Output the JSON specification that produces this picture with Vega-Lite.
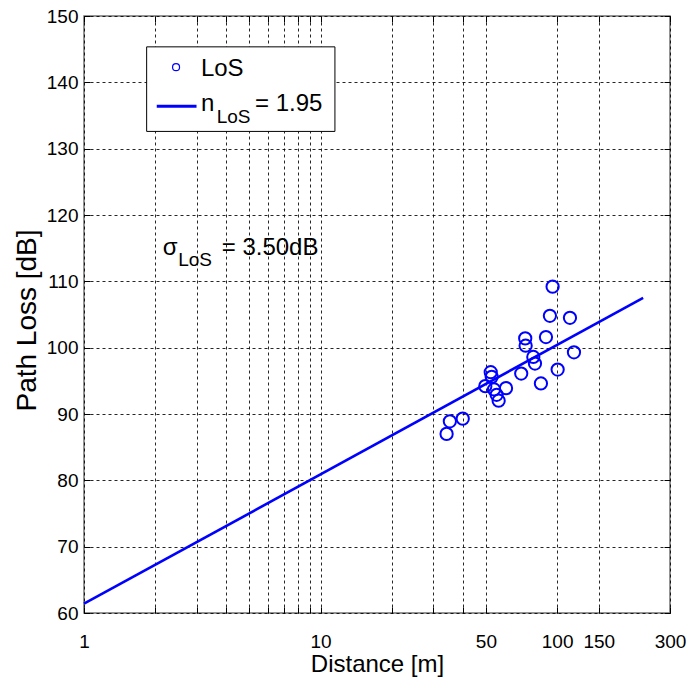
{
  "$schema": "https://vega.github.io/schema/vega-lite/v6.json",
  "width": 586,
  "height": 597,
  "autosize": {"type": "none"},
  "padding": {"left": 84, "top": 16, "right": 19, "bottom": 66},
  "background": "white",
  "config": {
    "font": "Liberation Sans",
    "view": {"stroke": "#707070", "strokeWidth": 1.5},
    "axis": {
      "domain": false,
      "labelColor": "black",
      "titleColor": "black",
      "titleFontWeight": "normal",
      "tickColor": "black",
      "gridColor": "black",
      "gridDash": [3, 3],
      "gridOpacity": 0.85,
      "gridWidth": 1,
      "labelFontSize": 19,
      "labelFont": "Liberation Sans",
      "titleFont": "Liberation Sans"
    }
  },
  "datasets": {
    "meas": [
      {"d": 95.7, "pl": 109.2}, {"d": 93.2, "pl": 104.8}, {"d": 113.3, "pl": 104.5},
      {"d": 89.7, "pl": 101.6}, {"d": 73.3, "pl": 101.4}, {"d": 73.6, "pl": 100.3},
      {"d": 117.8, "pl": 99.3}, {"d": 79.3, "pl": 98.6}, {"d": 80.6, "pl": 97.6},
      {"d": 100.5, "pl": 96.7}, {"d": 70.5, "pl": 96.1}, {"d": 52.4, "pl": 96.3},
      {"d": 52.9, "pl": 95.6}, {"d": 85.4, "pl": 94.6}, {"d": 49.7, "pl": 94.2},
      {"d": 60.8, "pl": 93.9}, {"d": 54.1, "pl": 93.7}, {"d": 55.5, "pl": 92.9},
      {"d": 56.6, "pl": 92.0}, {"d": 39.9, "pl": 89.3}, {"d": 35.2, "pl": 88.9},
      {"d": 34.1, "pl": 87.0}
    ],
    "fit": [{"d": 1, "pl": 61.4}, {"d": 231, "pl": 107.5}],
    "legbox": [{"xa": 1.84, "xb": 11.5, "ya": 132.6, "yb": 145.35}],
    "legsym": [{"d": 2.45, "pl": 142.28}],
    "legline": [{"xa": 2.03, "xb": 2.99, "pl": 136.4}],
    "maintext": [
      {"d": 3.12, "pl": 140.92, "t": "LoS"},
      {"d": 3.12, "pl": 135.64, "t": "n"},
      {"d": 5.28, "pl": 135.64, "t": "= 1.95"},
      {"d": 2.15, "pl": 114.03, "t": "σ"},
      {"d": 3.82, "pl": 114.03, "t": "= 3.50dB"}
    ],
    "subtext": [
      {"d": 3.64, "pl": 133.89, "t": "LoS"},
      {"d": 2.50, "pl": 112.37, "t": "LoS"}
    ]
  },
  "layer": [
    {
      "data": {"name": "meas"},
      "mark": {"type": "point", "shape": "circle", "filled": false, "color": "#0000ff", "strokeWidth": 2, "size": 150, "opacity": 1},
      "encoding": {
        "x": {
          "field": "d", "type": "quantitative",
          "scale": {"type": "log", "domain": [1, 300], "nice": false},
          "axis": {
            "orient": "bottom",
            "title": "Distance [m]",
            "titleFontSize": 24,
            "titleBaseline": "alphabetic",
            "titleY": 58,
            "values": [1, 2, 3, 4, 5, 6, 7, 8, 9, 10, 20, 30, 40, 50, 100, 150, 300],
            "labelExpr": "indexof([1,10,50,100,150,300], datum.value) >= 0 ? format(datum.value, 'd') : ''",
            "labelFlush": false,
            "labelOverlap": false,
            "tickSize": -6,
            "labelPadding": 25,
            "grid": true
          }
        },
        "y": {
          "field": "pl", "type": "quantitative",
          "scale": {"domain": [60, 150], "nice": false, "zero": false},
          "axis": {
            "orient": "left",
            "title": "Path Loss [dB]",
            "titleFontSize": 28,
            "titleBaseline": "alphabetic",
            "titleX": -49,
            "titleY": 304,
            "values": [60, 70, 80, 90, 100, 110, 120, 130, 140, 150],
            "tickSize": -6,
            "labelPadding": 12,
            "grid": true
          }
        }
      }
    },
    {
      "data": {"name": "fit"},
      "mark": {"type": "line", "color": "#0000ff", "strokeWidth": 2.6},
      "encoding": {
        "x": {
          "field": "d", "type": "quantitative",
          "axis": {
            "orient": "top", "title": null, "labels": false, "grid": false,
            "values": [1, 2, 3, 4, 5, 6, 7, 8, 9, 10, 20, 30, 40, 50, 100, 150, 300],
            "tickSize": -6
          }
        },
        "y": {
          "field": "pl", "type": "quantitative",
          "axis": {
            "orient": "right", "title": null, "labels": false, "grid": false,
            "values": [60, 70, 80, 90, 100, 110, 120, 130, 140, 150],
            "tickSize": -6
          }
        }
      }
    },
    {
      "data": {"name": "legbox"},
      "mark": {"type": "rect", "fill": "white", "stroke": "black", "strokeWidth": 1},
      "encoding": {
        "x": {"field": "xa", "type": "quantitative", "axis": null},
        "x2": {"field": "xb"},
        "y": {"field": "ya", "type": "quantitative", "axis": null},
        "y2": {"field": "yb"}
      }
    },
    {
      "data": {"name": "legsym"},
      "mark": {"type": "point", "shape": "circle", "filled": false, "color": "#0000ff", "strokeWidth": 1.2, "size": 49, "opacity": 1},
      "encoding": {
        "x": {"field": "d", "type": "quantitative", "axis": null},
        "y": {"field": "pl", "type": "quantitative", "axis": null}
      }
    },
    {
      "data": {"name": "legline"},
      "mark": {"type": "rule", "color": "#0000ff", "strokeWidth": 3},
      "encoding": {
        "x": {"field": "xa", "type": "quantitative", "axis": null},
        "x2": {"field": "xb"},
        "y": {"field": "pl", "type": "quantitative", "axis": null}
      }
    },
    {
      "data": {"name": "maintext"},
      "mark": {"type": "text", "align": "left", "baseline": "alphabetic", "fontSize": 24, "color": "black", "font": "Liberation Sans"},
      "encoding": {
        "x": {"field": "d", "type": "quantitative", "axis": null},
        "y": {"field": "pl", "type": "quantitative", "axis": null},
        "text": {"field": "t"}
      }
    },
    {
      "data": {"name": "subtext"},
      "mark": {"type": "text", "align": "left", "baseline": "alphabetic", "fontSize": 19, "color": "black", "font": "Liberation Sans"},
      "encoding": {
        "x": {"field": "d", "type": "quantitative", "axis": null},
        "y": {"field": "pl", "type": "quantitative", "axis": null},
        "text": {"field": "t"}
      }
    }
  ],
  "resolve": {"axis": {"x": "independent", "y": "independent"}}
}
